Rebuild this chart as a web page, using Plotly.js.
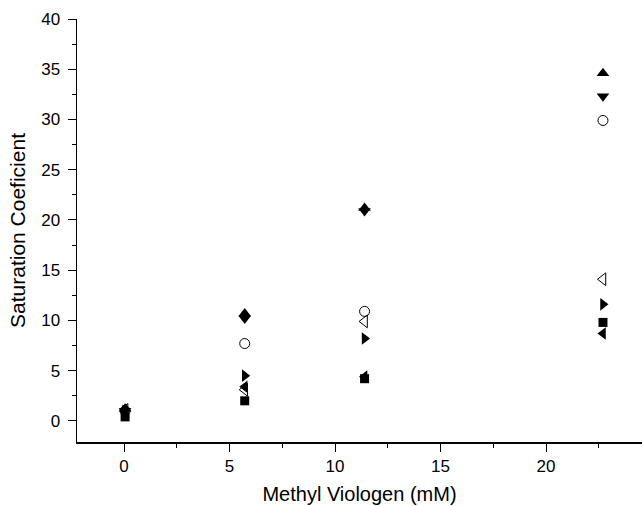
<!DOCTYPE html>
<html>
<head>
<meta charset="utf-8">
<script src="https://cdn.plot.ly/plotly-3.0.1.min.js"></script>
<style>html,body{margin:0;padding:0;background:#fff;}#chart{width:642px;height:506px;}</style>
</head>
<body>
<div id="chart"></div>
<script>
// x positions of the marker columns as they sit on the drawn axis (nominal 0, 5, 10, 20 mM)
const methylViologen = [0.05, 5.72, 11.4, 22.7];

const seriesSquare      = [0.4, 2.0, 4.2, 9.8];
const seriesCircleOpen  = [1.0, 7.7, 10.9, 29.9];
const seriesUp          = [1.2, 10.7, 21.2, 34.6];
const seriesDown        = [1.0, 10.2, 20.9, 32.3];
const seriesLeftOpen    = [1.1, 3.1, 9.9, 14.1];
const seriesRight       = [1.0, 4.5, 8.2, 11.6];
const seriesLeft        = [0.9, 3.4, 4.4, 8.7];

const xTitle = "Methyl Viologen (mM)";
const yTitle = "Saturation Coeficient";

function mk(y, symbol, size, open) {
  return {
    x: methylViologen, y: y, type: 'scatter', mode: 'markers',
    marker: {
      symbol: symbol, size: size,
      color: '#000',
      line: {color: '#000', width: open ? 1 : 0}
    },
    showlegend: false, hoverinfo: 'skip'
  };
}

const data = [
  mk(seriesSquare, 'square', 9, false),
  mk(seriesCircleOpen, 'circle-open', 10, true),
  mk(seriesUp, 'triangle-up', 11, false),
  mk(seriesDown, 'triangle-down', 11, false),
  mk(seriesLeftOpen, 'triangle-left-open', 11, true),
  mk(seriesRight, 'triangle-right', 11, false),
  mk(seriesLeft, 'triangle-left', 11, false)
];

const font = {family: 'Liberation Sans, Arial, sans-serif', color: '#000'};

const layout = {
  width: 642, height: 506,
  margin: {l: 77, r: 0, t: 19, b: 64, pad: 0},
  paper_bgcolor: '#fff', plot_bgcolor: '#fff',
  font: font,
  xaxis: {
    range: [-2.23, 24.55],
    showgrid: false, zeroline: false,
    showline: true, linecolor: '#000', linewidth: 1.5,
    ticks: 'outside', ticklen: 8, tickwidth: 1, tickcolor: '#000',
    tick0: 0, dtick: 5,
    minor: {ticks: 'outside', ticklen: 4, tickwidth: 1, tickcolor: '#000', dtick: 2.5, tick0: 0, showgrid: false},
    tickfont: {family: font.family, size: 17, color: '#000'},
    title: {text: xTitle, font: {family: font.family, size: 20, color: '#000'}, standoff: 12}
  },
  yaxis: {
    range: [-2.1, 40],
    showgrid: false, zeroline: false,
    showline: true, linecolor: '#000', linewidth: 1.5,
    ticks: 'outside', ticklen: 8, tickwidth: 1, tickcolor: '#000',
    ticklabelstandoff: 4,
    tick0: 0, dtick: 5,
    minor: {ticks: 'outside', ticklen: 4, tickwidth: 1, tickcolor: '#000', dtick: 2.5, tick0: 0, showgrid: false},
    tickfont: {family: font.family, size: 17, color: '#000'},
    title: {text: yTitle, font: {family: font.family, size: 21, color: '#000'}, standoff: 10}
  }
};

Plotly.newPlot('chart', data, layout, {displayModeBar: false, staticPlot: true});
</script>
</body>
</html>
